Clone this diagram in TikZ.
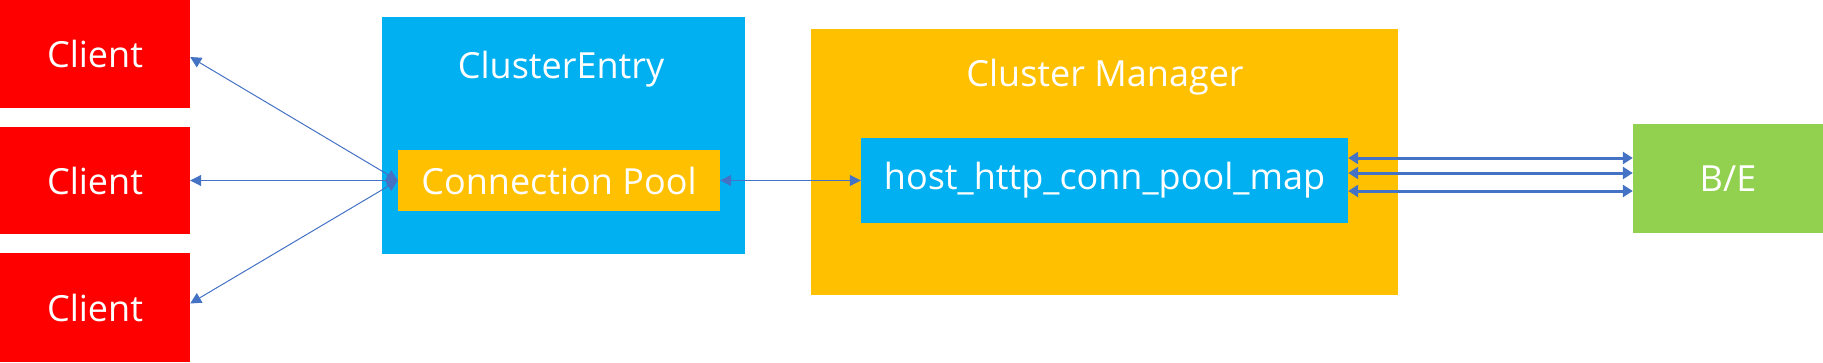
\documentclass[tikz,border=0pt]{standalone}
\usepackage{fontspec}
\setmainfont{Open Sans}
\usetikzlibrary{arrows.meta}
\definecolor{cred}{HTML}{FF0000}
\definecolor{cblue}{HTML}{00B0F0}
\definecolor{cyellow}{HTML}{FFC000}
\definecolor{cgreen}{HTML}{92D050}
\definecolor{cline}{HTML}{4472C4}
\tikzset{
  box/.style={fill=#1, draw=none, inner sep=0pt, text=white, font=\fontsize{36}{44}\selectfont},
  thin link/.style={cline, line width=1pt, {Triangle[length=11pt,width=11pt]}-{Triangle[length=11pt,width=11pt]}},
  thick link/.style={cline, line width=3pt, {Triangle[length=10pt,width=12pt]}-{Triangle[length=10pt,width=12pt]}},
  lbl/.style={text=white, font=\fontsize{36}{44}\selectfont, inner sep=0pt}
}
\begin{document}
\begin{tikzpicture}[x=1pt,y=-1pt]
\useasboundingbox (0,0) rectangle (1823,362);
\node[box=cred, minimum width=190pt, minimum height=108pt] (c1) at (95,54) {Client};
\node[box=cred, minimum width=190pt, minimum height=107pt] (c2) at (95,180.5) {Client};
\node[box=cred, minimum width=190pt, minimum height=109pt] (c3) at (95,307.5) {Client};
\node[box=cblue, minimum width=363pt, minimum height=237pt] (ce) at (563.5,135.5) {};
\node[lbl] (celbl) at (561,69) {ClusterEntry};
\node[box=cyellow, minimum width=322pt, minimum height=61pt] (cp) at (559,180.5) {Connection Pool};
\node[box=cyellow, minimum width=587pt, minimum height=266pt] (cm) at (1104.5,162) {};
\node[lbl] (cmlbl) at (1105,77) {Cluster Manager};
\node[box=cblue, minimum width=487pt, minimum height=85pt] (map) at (1104.5,180.5) {host\_http\_conn\_pool\_map};
\node[box=cgreen, minimum width=190pt, minimum height=109pt] (be) at (1728,178.5) {B/E};
\draw[thin link] (cp.west) -- ([yshift=-3pt]c1.east);
\draw[thin link] (cp.west) -- (c2.east);
\draw[thin link] (cp.west) -- ([yshift=4pt]c3.east);
\draw[thin link] (cp.east) -- (map.west);
\draw[thick link] ([yshift=22.5pt]map.east) -- ([yshift=22.5pt]map.east -| be.west);
\draw[thick link] ([yshift=7.5pt]map.east) -- ([yshift=7.5pt]map.east -| be.west);
\draw[thick link] ([yshift=-10.5pt]map.east) -- ([yshift=-10.5pt]map.east -| be.west);
\end{tikzpicture}
\end{document}
